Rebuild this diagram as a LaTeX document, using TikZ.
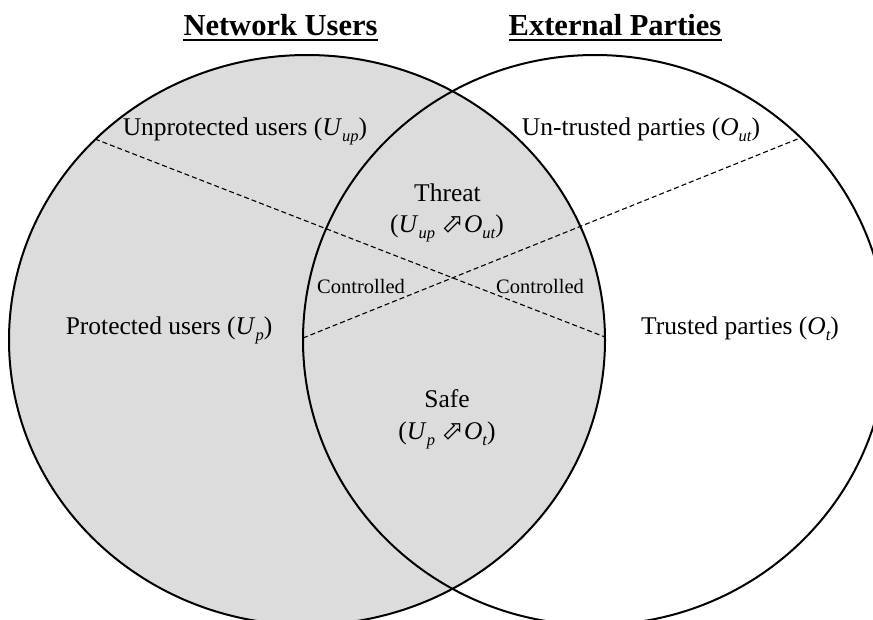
\documentclass[tikz,border=0pt]{standalone}
\usepackage{fontspec}
\setmainfont{Liberation Serif}
\newfontfamily\symfont{DejaVu Sans}
\definecolor{setgray}{RGB}{220,220,220}
% italic subscript, set low and small
\newcommand\sbs[1]{\raisebox{-0.24em}{\fontsize{16.5}{16.5}\selectfont\itshape #1}}
% hollow north-east arrow between the two sets
\newcommand\pointer{{\symfont\fontsize{27}{27}\selectfont ⬀}}
\begin{document}
\begin{tikzpicture}[x=1pt,y=-1pt,
  lbl/.style={inner sep=0pt, anchor=base, font=\fontsize{25.5}{30}\selectfont},
  small/.style={inner sep=0pt, anchor=base, font=\fontsize{20.5}{24}\selectfont},
  ttl/.style={inner sep=0pt, anchor=base, font=\fontsize{30.5}{36}\selectfont\bfseries},
  ring/.style={line width=2pt},
  cut/.style={line width=1.1pt, dash pattern=on 5pt off 3pt},
  uline/.style={line width=2.2pt}]
\useasboundingbox (0,0) rectangle (873,619);
\clip (0,0) rectangle (873,619);

% the two sets
\fill[setgray] (307,340) ellipse [x radius=298pt, y radius=285pt];
\draw[ring] (307,340) ellipse [x radius=298pt, y radius=285pt];
\draw[ring] (595,340) ellipse [x radius=292pt, y radius=285pt];

% dashed partitions of each set
\coordinate (a1) at (95,139);
\coordinate (a2) at (605,337);
\coordinate (b1) at (303,338);
\coordinate (b2) at (800,138);
\draw[cut] (a1) -- (a2);
\draw[cut] (b1) -- (b2);

% titles
\node[ttl] (nu) at (280.5,35) {Network Users};
\node[ttl] (ep) at (615,35) {External Parties};
\draw[uline] ([yshift=-5pt]nu.base west) -- ([yshift=-5pt]nu.base east);
\draw[uline] ([yshift=-5pt]ep.base west) -- ([yshift=-5pt]ep.base east);

% region labels
\node[lbl] (uup) at (245,135) {Unprotected users (\textit{U}\sbs{up})};
\node[lbl] (out) at (641,135) {Un-trusted parties (\textit{O}\sbs{ut})};
\node[lbl] (thr) at (447.5,201) {Threat};
\node[lbl] (thrf) at (447,232) {(\textit{U}\sbs{up} \pointer\textit{O}\sbs{ut})};
\node[small] (cl) at (361,293) {Controlled};
\node[small] (cr) at (540,293) {Controlled};
\node[lbl] (up) at (169,334) {Protected users (\textit{U}\sbs{p})};
\node[lbl] (ot) at (740,334) {Trusted parties (\textit{O}\sbs{t})};
\node[lbl] (safe) at (447,407) {Safe};
\node[lbl] (safef) at (447,439) {(\textit{U}\sbs{p} \pointer\textit{O}\sbs{t})};
\end{tikzpicture}
\end{document}
